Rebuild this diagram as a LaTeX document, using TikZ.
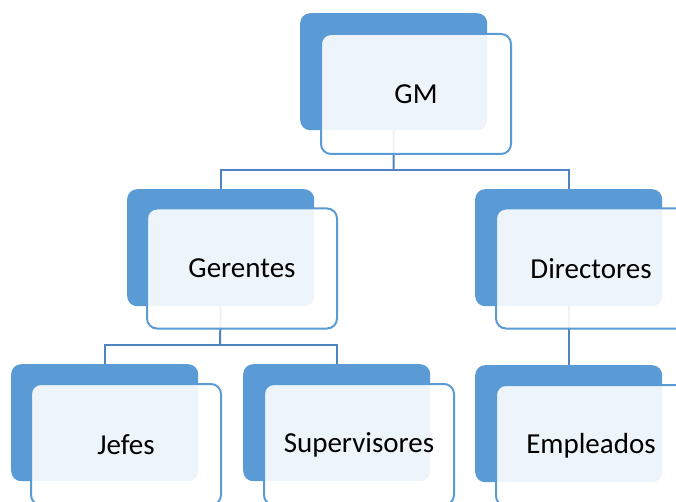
\documentclass[tikz,border=0pt]{standalone}
\usepackage{fontspec}
\setmainfont{Carlito}
\definecolor{accent}{HTML}{5B9BD5}
\definecolor{linec}{HTML}{4F84C0}
\pgfdeclarelayer{bg}
\pgfsetlayers{bg,main}
\begin{document}
\begin{tikzpicture}[x=1pt,y=-1pt,
  backbox/.style={fill=accent, rounded corners=10pt, minimum width=187pt, minimum height=117pt, inner sep=0pt, anchor=north west},
  frontbox/.style={draw=accent, line width=2pt, fill=white, fill opacity=0.9, text opacity=1, rounded corners=10pt, minimum width=190pt, minimum height=120pt, inner sep=0pt, anchor=north west, font=\fontsize{29}{34}\selectfont},
  conn/.style={draw=linec, line width=2pt}]
\useasboundingbox (0,0) rectangle (676,502);
\clip (0,0) rectangle (676,502);
% back boxes
\node[backbox] (gmB)  at (300,13) {};
\node[backbox] (gerB) at (127,189) {};
\node[backbox] (dirB) at (475,189) {};
\node[backbox] (jefB) at (11,364) {};
\node[backbox] (supB) at (243,364) {};
\node[backbox] (empB) at (475,365) {};
% front boxes
\node[frontbox] (gm)  at (320,33) {GM};
\node[frontbox] (ger) at (146,207.5) {Gerentes};
\node[frontbox] (dir) at (495,207.5) {Directores};
\node[frontbox, minimum height=121pt] (jef) at (30,383) {Jefes};
\node[frontbox, minimum height=121pt] (sup) at (263,383) {Supervisores};
\node[frontbox, minimum height=121pt] (emp) at (495,384) {Empleados};
% connectors
\coordinate (gmbus) at (393.5,170);
\coordinate (gerbus) at (220,345);
\begin{pgfonlayer}{bg}
\draw[conn] (gmB.south) -- (gmbus);
\draw[conn] (gmbus) -| (gerB.north);
\draw[conn] (gmbus) -| (dirB.north);
\draw[conn] (gerB.south) -- (gerbus);
\draw[conn] (gerbus) -| (jefB.north);
\draw[conn] (gerbus) -| (supB.north);
\draw[conn] (dirB.south) -- (empB.north);
\end{pgfonlayer}
\end{tikzpicture}
\end{document}
